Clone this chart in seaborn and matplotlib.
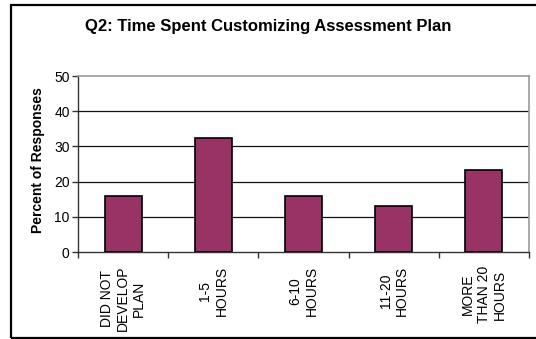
"""Q2 bar chart: time spent customizing the assessment plan."""
import matplotlib

matplotlib.use("Agg")
import matplotlib.pyplot as plt
import matplotlib.patches as mpatches
import pandas as pd
import seaborn as sns

categories = ["DID NOT\nDEVELOP\nPLAN", "1-5\nHOURS", "6-10\nHOURS",
              "11-20\nHOURS", "MORE\nTHAN 20\nHOURS"]
percents = [15.9, 32.5, 15.9, 13.0, 23.2]
y_ticks = [0, 10, 20, 30, 40, 50]

sns.set_theme(style="white")
plt.rcParams["font.family"] = ["Liberation Sans", "DejaVu Sans"]
plt.rcParams["text.color"] = "black"
plt.rcParams["axes.labelcolor"] = "black"
plt.rcParams["xtick.color"] = "black"
plt.rcParams["ytick.color"] = "black"

df = pd.DataFrame({"category": categories, "percent": percents})

fig = plt.figure(figsize=(5.36, 3.39), dpi=100)
ax = fig.add_axes([78 / 536, 87 / 339, 451 / 536, 176 / 339])

sns.barplot(data=df, x="category", y="percent", color="#993366",
            saturation=1, width=0.41, edgecolor="black", linewidth=1.2,
            ax=ax, zorder=3)

ax.set_ylim(0, 50)
ax.set_xlim(-0.5, len(categories) - 0.5)
ax.set_yticks(y_ticks)
ax.set_yticklabels([str(t) for t in y_ticks], fontsize=10)
for t in y_ticks[1:-1]:
    ax.axhline(t, color="#111111", lw=0.9, zorder=1)

# excel-style ticks on category boundaries
ax.set_xticks([i - 0.5 for i in range(len(categories) + 1)])
ax.set_xticklabels([])
ax.set_xticks(range(len(categories)), minor=True)
ax.set_xticklabels(categories, minor=True, rotation=90, fontsize=10,
                   ha="center", va="top", multialignment="center",
                   linespacing=1.2)
ax.tick_params(axis="x", which="minor", length=0, pad=10)
ax.tick_params(axis="x", which="major", direction="out", length=4,
               width=1, color="#333333", bottom=True)
ax.tick_params(axis="y", direction="out", length=4, width=1,
               color="#333333", left=True, pad=2)

for side in ("left", "bottom"):
    ax.spines[side].set_color("#333333")
    ax.spines[side].set_linewidth(1)
for side in ("top", "right"):
    ax.spines[side].set_color("#999999")
    ax.spines[side].set_linewidth(1.2)

ax.set_xlabel("")
ax.set_ylabel("Percent of Responses", fontsize=10, fontweight="bold")
ax.yaxis.set_label_coords(-33 / 451, 0.52)

fig.text(0.5, 1 - 27 / 339, "Q2: Time Spent Customizing Assessment Plan",
         ha="center", va="center", fontsize=12, fontweight="bold")

# outer chart border (runs off the right edge as in the original)
fig.patches.append(mpatches.Rectangle(
    (11 / 536, 1.5 / 339), 1.1, 1 - 6.5 / 339, transform=fig.transFigure,
    fill=False, edgecolor="black", linewidth=1.6, clip_on=False))

fig.savefig("out.png", dpi=100)
